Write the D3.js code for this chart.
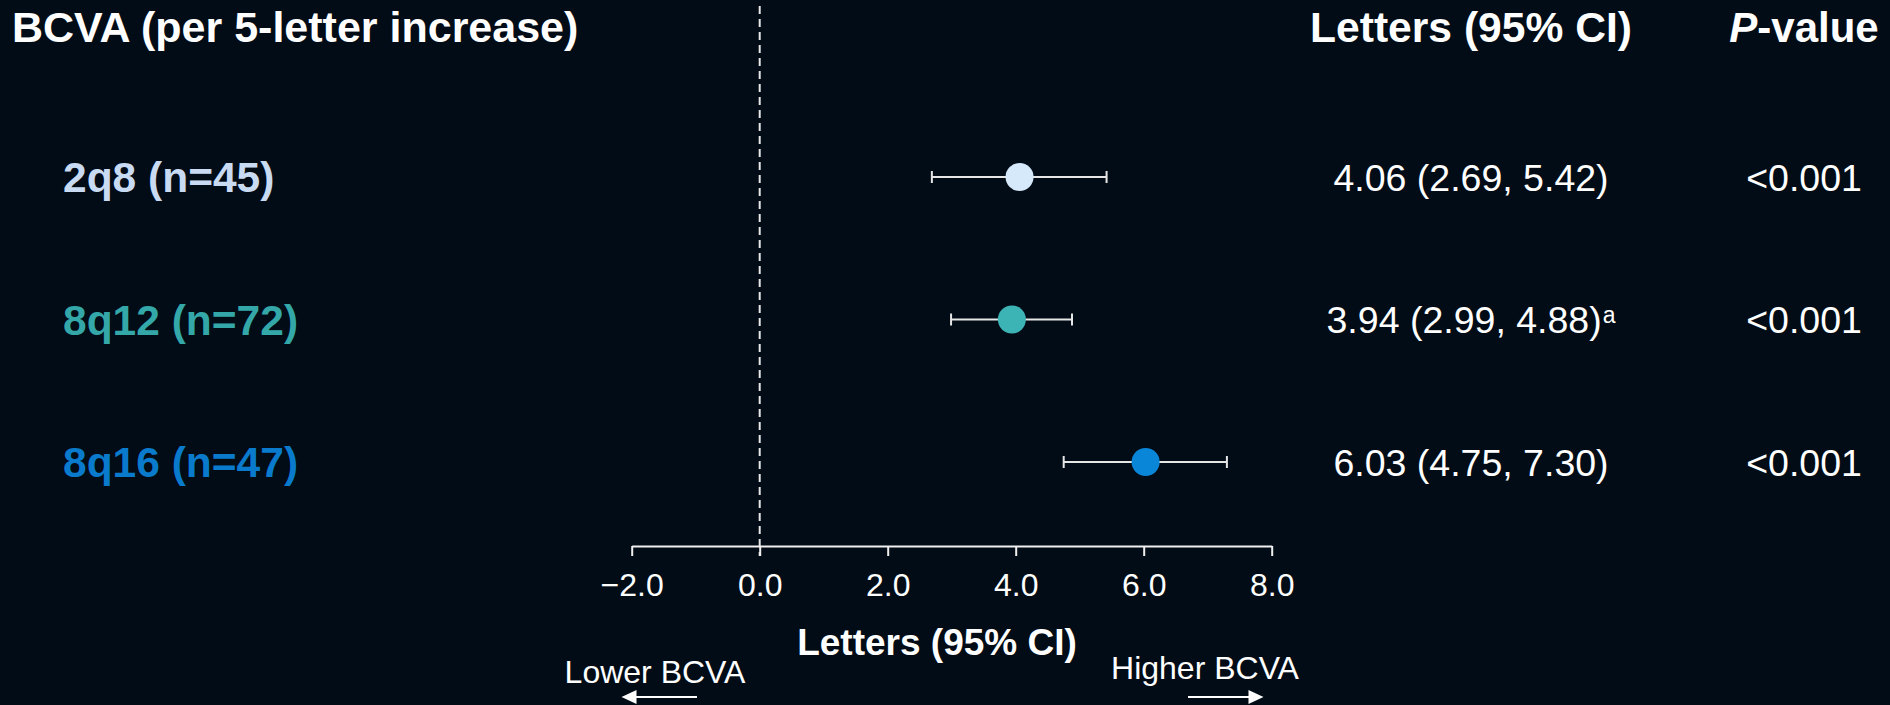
<!DOCTYPE html>
<html>
<head>
<meta charset="utf-8">
<script src="https://cdn.jsdelivr.net/npm/d3@7"></script>
<style>
  html, body { margin: 0; padding: 0; background: #020c16; }
  svg { display: block; }
  text { font-family: "Liberation Sans", Arial, sans-serif; }
</style>
</head>
<body>
<svg id="chart" width="1890" height="705"></svg>
<script>
// Forest plot data: BCVA change per 5-letter increase
const groups = ["2q8 (n=45)", "8q12 (n=72)", "8q16 (n=47)"];
const estimates = [4.06, 3.94, 6.03];
const ciLower = [2.69, 2.99, 4.75];
const ciUpper = [5.42, 4.88, 7.30];
const estimateLabels = ["4.06 (2.69, 5.42)", "3.94 (2.99, 4.88)", "6.03 (4.75, 7.30)"];
const footnotes = ["", "a", ""];
const pValues = ["<0.001", "<0.001", "<0.001"];
const xTicks = [-2, 0, 2, 4, 6, 8];

const labelColors = ["#c8dbf2", "#34a7a9", "#0a7bcc"];
const markerColors = ["#d6e9fb", "#3cb4b6", "#0a86d8"];

const svg = d3.select("#chart");
const W = 1890, H = 705;

svg.append("rect").attr("width", W).attr("height", H).attr("fill", "#020c16");

const x = d3.scaleLinear().domain([-2, 8]).range([631.7, 1271.7]);
const y = d3.scalePoint().domain(groups).range([177, 462]);
const axisY = 546;

const rows = groups.map((g, i) => ({
  group: g, est: estimates[i], lo: ciLower[i], hi: ciUpper[i],
  label: estimateLabels[i], note: footnotes[i], p: pValues[i],
  labelColor: labelColors[i], markerColor: markerColors[i]
}));

// Column headers
svg.append("text")
  .attr("x", 12).attr("y", 42)
  .attr("font-size", 43).attr("font-weight", "bold").attr("fill", "#ffffff")
  .text("BCVA (per 5-letter increase)");

svg.append("text")
  .attr("x", 1471).attr("y", 42).attr("text-anchor", "middle")
  .attr("font-size", 42.6).attr("font-weight", "bold").attr("fill", "#ffffff")
  .text("Letters (95% CI)");

const pHead = svg.append("text")
  .attr("x", 1804).attr("y", 42).attr("text-anchor", "middle")
  .attr("font-size", 42).attr("font-weight", "bold").attr("fill", "#ffffff");
pHead.append("tspan").attr("font-style", "italic").text("P");
pHead.append("tspan").text("-value");

// Reference line at zero
svg.append("line")
  .attr("x1", x(0)).attr("x2", x(0))
  .attr("y1", 6).attr("y2", 556)
  .attr("stroke", "#e8e8e8").attr("stroke-width", 2)
  .attr("stroke-dasharray", "8,5");

// X axis
const axis = d3.axisBottom(x)
  .tickValues(xTicks)
  .tickFormat(d3.format(".1f"))
  .tickSize(10)
  .tickSizeOuter(0)
  .tickPadding(17);

const gAxis = svg.append("g")
  .attr("transform", `translate(0,${axisY})`)
  .call(axis);
gAxis.select(".domain").attr("stroke", "#f0f0f0").attr("stroke-width", 2);
gAxis.selectAll(".tick line").attr("stroke", "#f0f0f0").attr("stroke-width", 2);
gAxis.selectAll(".tick text")
  .attr("fill", "#ffffff")
  .attr("font-size", 32)
  .attr("font-family", "'Liberation Sans', Arial, sans-serif");

svg.append("text")
  .attr("x", 937).attr("y", 655).attr("text-anchor", "middle")
  .attr("font-size", 37).attr("font-weight", "bold").attr("fill", "#ffffff")
  .text("Letters (95% CI)");

// Direction hints
svg.append("text")
  .attr("x", 655).attr("y", 682.5).attr("text-anchor", "middle")
  .attr("font-size", 32).attr("fill", "#ffffff")
  .text("Lower BCVA");
svg.append("text")
  .attr("x", 1205).attr("y", 678.5).attr("text-anchor", "middle")
  .attr("font-size", 32).attr("fill", "#ffffff")
  .text("Higher BCVA");

const arrowY = 697;
function arrow(xFrom, xTip) {
  const dir = Math.sign(xTip - xFrom);
  const headLen = 15, headHalf = 7;
  svg.append("line")
    .attr("x1", xFrom).attr("x2", xTip - dir * headLen + dir)
    .attr("y1", arrowY).attr("y2", arrowY)
    .attr("stroke", "#ffffff").attr("stroke-width", 2);
  svg.append("path")
    .attr("d", `M${xTip},${arrowY}L${xTip - dir * headLen},${arrowY - headHalf}L${xTip - dir * headLen},${arrowY + headHalf}Z`)
    .attr("fill", "#ffffff");
}
arrow(697, 621.5);
arrow(1188, 1263.5);

// Rows
const rowG = svg.selectAll("g.row").data(rows).join("g").attr("class", "row");

rowG.append("text")
  .attr("x", 63).attr("y", d => y(d.group)).attr("dy", "0.36em")
  .attr("font-size", 42.5).attr("font-weight", "bold")
  .attr("fill", d => d.labelColor)
  .text(d => d.group);

// Confidence intervals
const capHalf = 6;
rowG.append("line")
  .attr("x1", d => x(d.lo)).attr("x2", d => x(d.hi))
  .attr("y1", d => y(d.group)).attr("y2", d => y(d.group))
  .attr("stroke", "#e6e6e6").attr("stroke-width", 2);
rowG.append("line")
  .attr("x1", d => x(d.lo)).attr("x2", d => x(d.lo))
  .attr("y1", d => y(d.group) - capHalf).attr("y2", d => y(d.group) + capHalf)
  .attr("stroke", "#e6e6e6").attr("stroke-width", 2);
rowG.append("line")
  .attr("x1", d => x(d.hi)).attr("x2", d => x(d.hi))
  .attr("y1", d => y(d.group) - capHalf).attr("y2", d => y(d.group) + capHalf)
  .attr("stroke", "#e6e6e6").attr("stroke-width", 2);

// Point estimates
rowG.append("circle")
  .attr("cx", d => x(d.est)).attr("cy", d => y(d.group)).attr("r", 14)
  .attr("fill", d => d.markerColor);

// Estimate text with optional footnote marker
const estText = rowG.append("text")
  .attr("x", 1471).attr("y", d => y(d.group)).attr("dy", "0.37em")
  .attr("text-anchor", "middle")
  .attr("font-size", 37.5).attr("fill", "#ffffff");
estText.append("tspan").text(d => d.label);
estText.filter(d => d.note).append("tspan")
  .attr("font-size", 23).attr("dy", "-0.45em").attr("dx", 1)
  .text(d => d.note);

rowG.append("text")
  .attr("x", 1804).attr("y", d => y(d.group)).attr("dy", "0.37em")
  .attr("text-anchor", "middle")
  .attr("font-size", 37.5).attr("fill", "#ffffff")
  .text(d => d.p);
</script>
</body>
</html>
